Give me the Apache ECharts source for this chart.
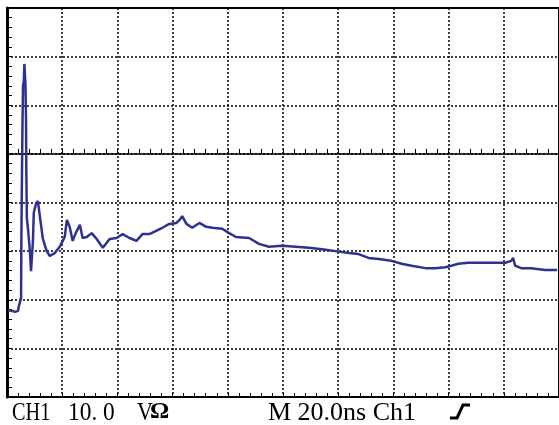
<!DOCTYPE html>
<html>
<head>
<meta charset="utf-8">
<script src="https://cdn.jsdelivr.net/npm/echarts@6/dist/echarts.min.js"></script>
<style>
  html, body { margin: 0; padding: 0; background: #fff; }
  #chart { width: 559px; height: 425px; }
</style>
</head>
<body>
<div id="chart"></div>
<script>
// time in ns (20 ns/div), voltage in V (10 V/div)
var timeNs = [
  0.4, 1.1, 1.8, 2.9, 4.0, 4.3, 5.1, 5.2, 5.4, 5.6, 5.8, 6.1, 6.3, 6.7, 6.9, 7.0, 7.2, 7.6, 8.3, 8.7,
  9.0, 9.4, 9.7, 10.5, 11.2, 11.9, 13.0, 14.4, 15.5, 17.3, 19.1, 20.2, 20.9, 21.7, 22.7, 23.8, 24.9, 26.4, 27.4, 28.9,
  30.7, 32.5, 34.7, 37.2, 39.7, 41.9, 44.4, 46.9, 49.1, 51.6, 54.2, 56.3, 58.8, 61.4, 62.8, 63.5, 65.0, 67.1, 69.7, 72.2,
  74.4, 78.0, 80.5, 83.0, 87.7, 91.3, 94.9, 99.6, 104.7, 109.4, 114.1, 119.1, 123.8, 127.4, 131.0, 134.6, 139.3, 143.0, 146.6, 151.6,
  155.2, 158.8, 161.0, 163.5, 167.1, 170.7, 175.4, 180.5, 182.7, 183.4, 184.1, 186.3, 189.9, 195.0, 199.3
]
var volts = [
  -32.1, -31.7, -32.3, -32.5, -32.3, -31.3, -29.6, -17.9, -5.6, 5.4, 14.0, 15.0, 18.5, 14.0, 6.8, -3.5, -13.2, -15.4, -20.0, -24.1,
  -23.7, -17.9, -12.1, -10.3, -9.7, -12.8, -17.5, -20.0, -21.0, -20.4, -19.1, -17.9, -17.1, -13.6, -15.0, -17.9, -16.3, -14.6, -17.3, -17.1,
  -16.3, -17.5, -19.3, -17.5, -17.3, -16.5, -17.3, -17.9, -16.5, -16.5, -15.8, -15.2, -14.4, -14.2, -13.4, -12.8, -14.4, -15.2, -14.2, -15.0,
  -15.2, -15.4, -16.3, -17.1, -17.3, -18.5, -19.1, -18.9, -19.1, -19.3, -19.6, -20.0, -20.4, -20.6, -21.4, -21.6, -22.0, -22.6, -23.0, -23.5,
  -23.5, -23.3, -23.0, -22.6, -22.4, -22.4, -22.4, -22.4, -22.0, -21.4, -23.0, -23.5, -23.5, -23.9, -23.9
]

var chart = echarts.init(document.getElementById('chart'))

var gridLine = { color: '#000', type: [2, 2], width: 1.5 }

chart.setOption({
  animation: false,
  backgroundColor: '#fff',
  grid: {
    left: 7,
    top: 8,
    width: 554,
    height: 389,
    show: true,
    borderColor: '#000',
    borderWidth: 2
  },
  xAxis: [{
    type: 'value',
    min: 0,
    max: 200,
    interval: 20,
    position: 'bottom',
    axisLine: { onZero: false, lineStyle: { color: '#000', width: 2 } },
    axisTick: { inside: true, length: 4, lineStyle: { color: '#000' } },
    minorTick: { show: true, splitNumber: 5, length: 4, lineStyle: { color: '#000' } },
    axisLabel: { show: false },
    splitLine: { show: true, lineStyle: gridLine }
  }, {
    // solid trigger-level line with its own ticks
    type: 'value',
    min: 0,
    max: 200,
    interval: 20,
    position: 'bottom',
    axisLine: { onZero: true, lineStyle: { color: '#000', width: 1.5 } },
    axisTick: { inside: true, length: 5, lineStyle: { color: '#000' } },
    minorTick: { show: true, splitNumber: 5, length: 5, lineStyle: { color: '#000' } },
    axisLabel: { show: false },
    splitLine: { show: false }
  }],
  yAxis: {
    type: 'value',
    min: -50,
    max: 30,
    interval: 10,
    position: 'left',
    axisLine: { onZero: false, lineStyle: { color: '#000', width: 3 } },
    axisTick: { inside: true, length: 5, lineStyle: { color: '#000' } },
    minorTick: { show: true, splitNumber: 5, length: 5, lineStyle: { color: '#000' } },
    axisLabel: { show: false },
    splitLine: { show: true, lineStyle: gridLine }
  },
  series: [{
    type: 'line',
    xAxisIndex: 0,
    data: timeNs.map(function(t, i) { return [t, volts[i]] }),
    showSymbol: false,
    lineStyle: { color: '#2e3192', width: 2.5 }
  }],
  graphic: [
    { type: 'text', left: 12, top: 400, scaleX: 0.78, style: { text: 'CH1', font: '26px "Liberation Serif"', fill: '#000' } },
    { type: 'text', left: 68, top: 400, scaleX: 0.9, style: { text: '10.', font: '26px "Liberation Serif"', fill: '#000' } },
    { type: 'text', left: 103, top: 400, scaleX: 0.9, style: { text: '0', font: '26px "Liberation Serif"', fill: '#000' } },
    { type: 'text', left: 137, top: 400, scaleX: 0.85, style: { text: 'V', font: '26px "Liberation Serif"', fill: '#000' } },
    { type: 'text', left: 150, top: 400, style: { text: 'Ω', font: 'bold 24px "Liberation Serif"', fill: '#000' } },
    { type: 'text', left: 268, top: 400, style: { text: 'M 20.0ns Ch1', font: '26px "Liberation Serif"', fill: '#000' } },
    {
      type: 'polyline',
      shape: { points: [[450, 418], [457, 418], [463, 405], [470, 405]] },
      style: { stroke: '#000', lineWidth: 3, fill: null }
    }
  ]
})
</script>
</body>
</html>
